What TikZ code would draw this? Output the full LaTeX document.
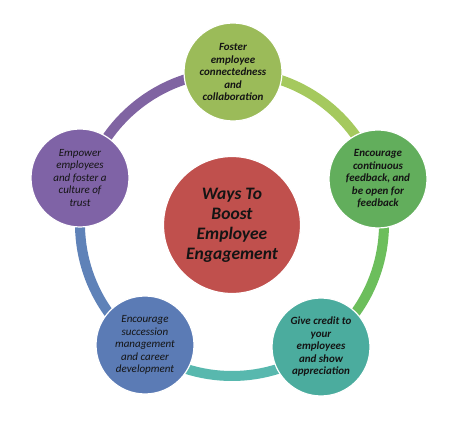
\documentclass[tikz,border=0pt]{standalone}
\usepackage{fontspec}
\setmainfont{Carlito}
\definecolor{cTop}{HTML}{9BBB59}
\definecolor{cRight}{HTML}{62AE5C}
\definecolor{cBR}{HTML}{4BAC9E}
\definecolor{cBL}{HTML}{5B7BB5}
\definecolor{cLeft}{HTML}{7F63A6}
\definecolor{cCenter}{HTML}{C0504D}
\definecolor{aTR}{HTML}{A5C95E}
\definecolor{aRB}{HTML}{6CBE5C}
\definecolor{aBB}{HTML}{58B8AE}
\definecolor{aBL}{HTML}{5F82B8}
\definecolor{aLT}{HTML}{8064A2}
\definecolor{txt}{HTML}{141414}
\tikzset{
  bub/.style={circle, draw=white, line width=1.2pt, minimum size=98pt, inner sep=0pt,
    align=center, text=txt, font=\fontsize{11}{12.5}\selectfont\bfseries\itshape},
  bubit/.style={bub, font=\fontsize{11}{12.5}\selectfont\itshape},
  hub/.style={circle, draw=white, line width=1.2pt, minimum size=137pt, inner sep=0pt,
    align=center, text=txt, font=\fontsize{17.5}{20}\selectfont\bfseries\itshape},
  ring/.style={line width=10pt}
}
\begin{document}
\begin{tikzpicture}[x=1pt,y=1pt]
\useasboundingbox (0,0) rectangle (460,436);
\coordinate (rc) at (232,212);
\draw[ring, aLT] (rc) ++(163:152) arc[start angle=163, end angle=90, radius=152];
\draw[ring, aTR] (rc) ++(90:152) arc[start angle=90, end angle=17, radius=152];
\draw[ring, aRB] (rc) ++(17:152) arc[start angle=17, end angle=-54, radius=152];
\draw[ring, aBB] (rc) ++(-54:152) arc[start angle=-54, end angle=-126, radius=152];
\draw[ring, aBL] (rc) ++(234:152) arc[start angle=234, end angle=163, radius=152];
\node[bub, fill=cTop] (top) at (233,364) {Foster\\employee\\connectedness\\and\\collaboration};
\node[bub, fill=cRight] (right) at (378,257) {Encourage\\continuous\\feedback, and\\be open for\\feedback};
\node[bub, fill=cBR] (br) at (321,89) {Give credit to\\your\\employees\\and show\\appreciation};
\node[bubit, fill=cBL] (bl) at (145,91) {Encourage\\succession\\management\\and career\\development};
\node[bubit, fill=cLeft] (left) at (80,258) {Empower\\employees\\and foster a\\culture of\\trust};
\node[hub, fill=cCenter] (hub) at (232,211) {Ways To\\Boost\\Employee\\Engagement};
\end{tikzpicture}
\end{document}
